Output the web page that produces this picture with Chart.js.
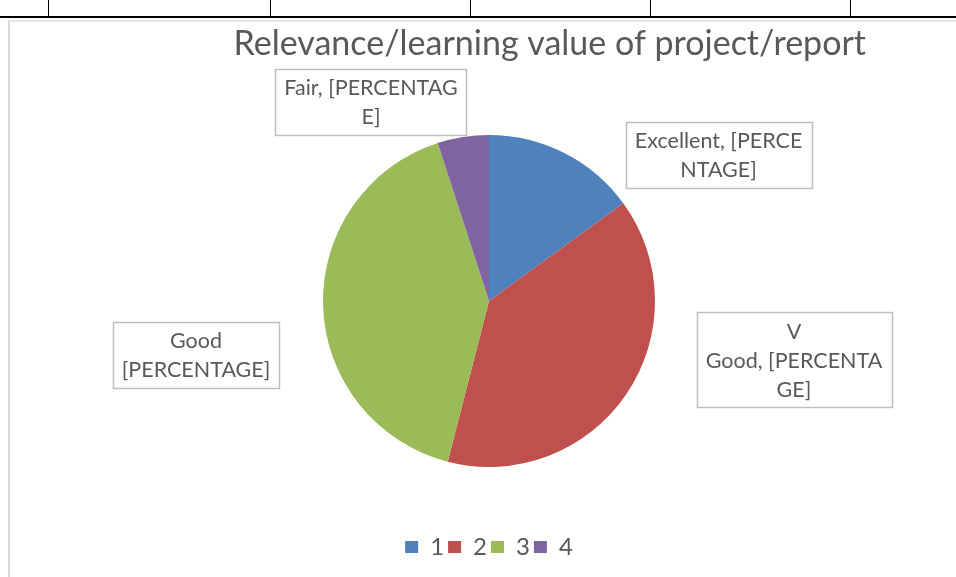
<!DOCTYPE html>
<html>
<head>
<meta charset="utf-8">
<script src="https://cdn.jsdelivr.net/npm/chart.js@4/dist/chart.umd.min.js"></script>
<style>
  html, body { margin: 0; padding: 0; background: #fff; }
  #wrap { position: relative; width: 956px; height: 577px; overflow: hidden; background: #fff; }
  .hline { position: absolute; left: 0; width: 956px; top: 16px; height: 2px; background: #000; }
  .vline { position: absolute; top: 0; width: 1px; height: 17px; background: #000; }
  .frame { position: absolute; left: 8px; top: 20px; width: 1000px; height: 600px; border-left: 2px solid #d9d9d9; border-top: 2px solid #e6e6e6; }
  canvas { position: absolute; left: 0; top: 0; }
</style>
</head>
<body>
<div id="wrap">
  <div class="frame"></div>
  <div class="hline"></div>
  <div class="vline" style="left:48px"></div>
  <div class="vline" style="left:270px"></div>
  <div class="vline" style="left:470px"></div>
  <div class="vline" style="left:650px"></div>
  <div class="vline" style="left:850px"></div>
  <canvas id="c" width="956" height="577"></canvas>
</div>
<script>
// ---- data ----
const categories = ['1', '2', '3', '4'];
const values = [15, 39, 41, 5];
const colors = ['#4F81BD', '#C0504D', '#9BBB59', '#8064A2'];
const chartTitle = 'Relevance/learning value of project/report';
const dataLabelLines = [
  ['Excellent, [PERCE', 'NTAGE]'],
  ['V', 'Good, [PERCENTA', 'GE]'],
  ['Good', '[PERCENTAGE]'],
  ['Fair, [PERCENTAG', 'E]']
];
// label box centres, in units of the pie radius relative to the pie centre
const labelOffsets = [[1.383, -0.880], [1.837, 0.355], [-1.765, 0.325], [-0.711, -1.199]];

const FONT = 'Lato, "Open Sans", sans-serif';
const TEXT = '#595959';

const labelBoxes = {
  id: 'labelBoxes',
  afterDatasetsDraw(chart) {
    const ctx = chart.ctx;
    const meta = chart.getDatasetMeta(0);
    const arc0 = meta.data[0];
    const cx = arc0.x, cy = arc0.y, r = arc0.outerRadius;
    const lh = 29;
    ctx.save();
    ctx.font = '21.5px ' + FONT;
    ctx.textAlign = 'center';
    ctx.textBaseline = 'middle';
    dataLabelLines.forEach((lines, i) => {
      const bx = cx + labelOffsets[i][0] * r;
      const by = cy + labelOffsets[i][1] * r;
      let w = 0;
      lines.forEach(l => { w = Math.max(w, ctx.measureText(l).width); });
      w += 18;
      const h = lines.length * lh + 8;
      const x0 = Math.round(bx - w / 2) + 0.5, y0 = Math.round(by - h / 2) + 0.5;
      ctx.fillStyle = '#fff';
      ctx.fillRect(x0, y0, Math.round(w), h);
      ctx.strokeStyle = '#bfbfbf';
      ctx.lineWidth = 1.5;
      ctx.strokeRect(x0, y0, Math.round(w), h);
      ctx.fillStyle = TEXT;
      lines.forEach((l, k) => {
        ctx.fillText(l, bx, by + (k - (lines.length - 1) / 2) * lh + 1);
      });
    });
    ctx.restore();
  }
};

new Chart(document.getElementById('c'), {
  type: 'pie',
  data: {
    labels: categories,
    datasets: [{
      data: values,
      backgroundColor: colors,
      borderWidth: 0
    }]
  },
  options: {
    responsive: false,
    animation: false,
    radius: 166,
    layout: { padding: { top: 0, bottom: 8, left: 112, right: 90 } },
    plugins: {
      title: {
        display: true,
        text: chartTitle,
        align: 'end',
        color: TEXT,
        font: { family: FONT, size: 34, weight: 'normal', lineHeight: 1.2 },
        padding: { top: 24, bottom: 6 }
      },
      legend: {
        position: 'bottom',
        labels: {
          color: TEXT,
          font: { family: FONT, size: 24 },
          boxWidth: 13,
          boxHeight: 12,
          padding: 4
        }
      },
      tooltip: { enabled: false }
    }
  },
  plugins: [labelBoxes]
});
</script>
</body>
</html>
